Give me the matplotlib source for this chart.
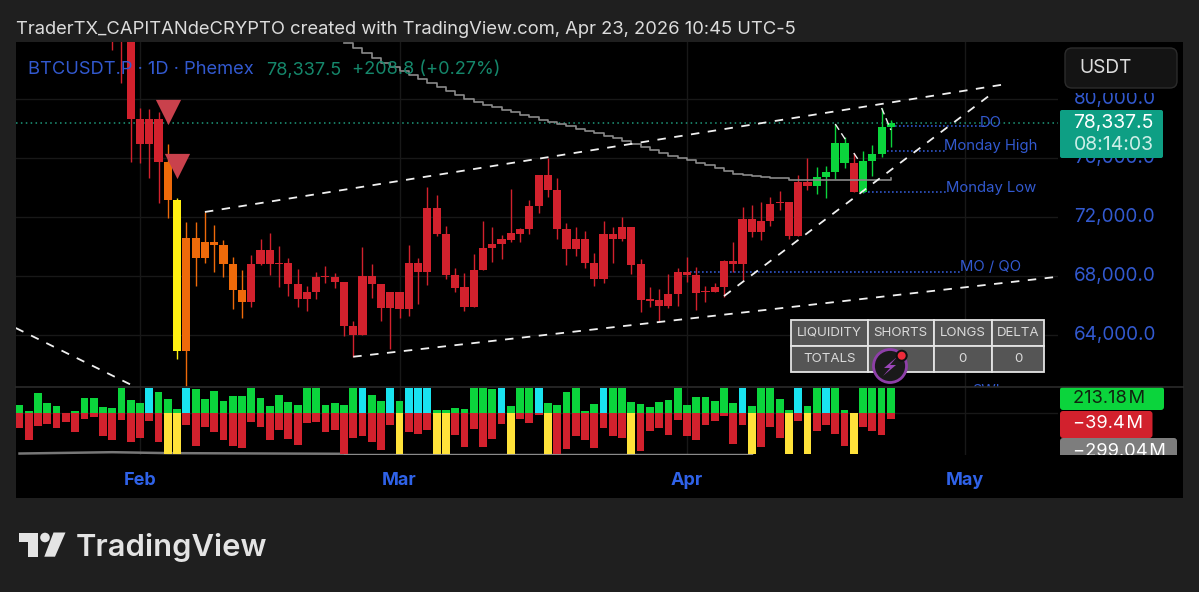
import numpy as np
import matplotlib
matplotlib.use('Agg')
import matplotlib.pyplot as plt
from matplotlib.patches import Circle, FancyBboxPatch, Polygon, Rectangle
from matplotlib.transforms import ScaledTranslation

plt.rcParams['font.family'] = ['Inter', 'DejaVu Sans']

W, H = 1199, 592
BG = '#1f1f1f'
BLUE = '#3259cf'
TEAL = '#0e9f84'
RED = '#d2212d'
GREEN = '#0bd43c'
COLORS = {'r': RED, 'o': '#ee6a0a', 'y': '#fff012', 'g': GREEN}

# days counted from Feb 1
first_candle = -3
highs = [85000, 85000, 86500, 79390, 79320, 79120, 76940, 73280, 71670, 71650,
         72330, 71450, 70430, 69270, 68390, 69410, 70490, 70920, 70040, 69200,
         68460, 67300, 68250, 68660, 68210, 67600, 64950, 69970, 68800, 67440,
         66920, 66920, 70090, 69200, 74030, 73480, 71380, 68530, 68190, 69480,
         71740, 71310, 70770, 73890, 71240, 73140, 74860, 75990, 74640, 71600,
         71310, 71060, 69540, 71740, 71330, 71990, 71310, 69140, 67260, 67100,
         68120, 68550, 69270, 68610, 67300, 67530, 69070, 70310, 72690, 72800,
         72990, 73370, 73750, 73010, 74840, 75990, 75400, 75450, 78300, 77420,
         76330, 76490, 76880, 79390, 78570]
lows = [83330, 81090, 75740, 75680, 74640, 72940, 71920, 62350, 60450, 67300,
        68860, 68270, 67910, 65740, 65130, 65900, 68700, 68050, 67260, 66620,
        65880, 65630, 66420, 67530, 67190, 63910, 62500, 63980, 66490, 64930,
        63030, 65130, 65270, 66080, 67370, 70700, 67780, 66900, 65630, 65880,
        68390, 68950, 69160, 70310, 70290, 70830, 72260, 73370, 70490, 68730,
        69340, 68550, 67320, 67510, 68890, 70380, 68120, 65560, 65900, 64880,
        65810, 65950, 67570, 65670, 66240, 66900, 66580, 68270, 67710, 70650,
        70430, 71380, 72460, 70470, 70700, 73820, 73550, 73280, 74570, 75320,
        73710, 73640, 74770, 76080, 76740]
body_tops = [84800, 84800, 84500, 78660, 78660, 78660, 75720, 73140, 70560, 70560,
             70310, 70310, 70090, 68800, 67030, 68800, 69750, 69750, 68860, 68860,
             67440, 66920, 67930, 67980, 67930, 67600, 64610, 67980, 67980, 67440,
             66920, 66920, 68860, 68860, 72620, 72620, 70830, 68050, 67240, 68390,
             69900, 70160, 70490, 70900, 71170, 72740, 74860, 74860, 73840, 71190,
             70490, 70490, 68890, 70830, 70830, 71310, 71310, 68800, 66420, 66350,
             66760, 68250, 68250, 68070, 66950, 67240, 68990, 68990, 71850, 71850,
             71720, 72890, 73010, 73010, 74360, 74390, 74700, 75060, 77010, 77010,
             75680, 75790, 76270, 78120, 78350]
body_bottoms = [84300, 84300, 78660, 76920, 76920, 75720, 73140, 62890, 62890, 69220,
                69220, 70090, 68800, 67030, 66240, 66240, 68800, 68800, 68780, 67440,
                66420, 66420, 66920, 67900, 67600, 64610, 63980, 63980, 67440, 65830,
                65830, 65740, 65740, 68270, 68270, 70830, 68050, 67190, 65880, 65880,
                68390, 69880, 70160, 70430, 70850, 71170, 72740, 73820, 71190, 69840,
                69840, 68860, 67780, 67780, 70490, 70490, 68750, 66350, 66300, 65950,
                65950, 66760, 68070, 66850, 66880, 66920, 67240, 68820, 68820, 70990,
                70990, 71720, 72950, 70700, 70700, 74090, 74090, 74700, 75060, 75650,
                73710, 73710, 75790, 76270, 78120]
candle_colors = list('rrrrrr' + 'oyooooooo' + 'r' * 60 + 'rgggg' + 'rgggg')

# long average, one value per day from first_ma on
first_ma = 22
ma_values = [83800, 83460, 83120, 82780, 82440, 82170, 81900, 81630, 81360, 81090,
             80820, 80540, 80270, 80000, 79800, 79590, 79460, 79250, 79120, 78910,
             78780, 78570, 78440, 78300, 78170, 77960, 77830, 77690, 77490, 77350,
             77150, 76940, 76740, 76540, 76330, 76130, 75990, 75860, 75650, 75520,
             75320, 75110, 74910, 74840, 74770, 74700, 74640, 74640, 74500, 74500,
             74500, 74500, 74500, 74500, 74500, 74500, 74500, 74500, 74500, 74640]

# trend lines: (day, price) pairs
channel_top = ([7, 93.5], [72330, 81020])
channel_bottom = ([23, 99], [62500, 67930])
rising_support = ([63, 91.7], [66620, 80270])
old_resistance = ([-13.4, -0.5], [64450, 60450])
zigzags = [([75, 76.2], [78300, 77150]),
           ([77, 77.5], [76330, 75860]),
           ([80, 81], [79390, 77900])]

current_price = 78337.5
level_names = ['DO', 'Monday High', 'Monday Low', 'MO / QO']
level_prices = [78190, 76490, 73670, 68250]
level_starts = [80.6, 80.6, 77.7, 59.3]
level_ends = [91.1, 86.8, 87.2, 88.6]
level_label_prices = [78370, 76810, 73960, 68590]
sell_marks = ([3, 4], [79120, 75450])

price_ticks = [64000, 68000, 72000, 76000, 80000]
month_days = [0, 28, 59, 89]
month_names = ['Feb', 'Mar', 'Apr', 'May']

# liquidity pane, millions
first_bar = -13
shorts = [62, 20, 150, 82, 55, 2, 20, 118, 118, 48,
          42, 190, 100, 80, 190, 158, 112, 32, 190, 180,
          108, 168, 95, 132, 128, 190, 118, 58, 138, 88,
          62, 190, 190, 65, 80, 65, 190, 190, 138, 95,
          190, 92, 190, 190, 190, 25, 25, 38, 32, 190,
          190, 180, 190, 55, 190, 190, 190, 78, 62, 162,
          190, 20, 68, 190, 190, 190, 85, 72, 50, 85,
          98, 190, 62, 120, 120, 95, 190, 75, 190, 58,
          190, 190, 112, 25, 190, 55, 190, 190, 190, 25,
          0, 190, 190, 190, 213.18]
longs = [-105, -195, -92, -80, -107, -65, -140, -45, -30, -170,
         -195, -50, -210, -180, -60, -215, -305, -305, -88, -240,
         -100, -138, -200, -242, -258, -62, -100, -198, -125, -190,
         -235, -72, -65, -135, -125, -300, -182, -165, -215, -270,
         -85, -305, -142, -150, -120, -305, -305, -162, -250, -118,
         -248, -190, -78, -305, -38, -72, -15, -305, -305, -268,
         -165, -200, -260, -108, -170, -185, -305, -280, -128, -112,
         -160, -52, -170, -198, -88, -60, -20, -232, -88, -305,
         -252, -100, -180, -305, -58, -305, -128, -85, -155, -245,
         -305, -100, -130, -160, -39.4]
cyan_days = [1, 5, 24, 27, 29, 30, 31, 39, 43, 50, 65, 71, 74]
yellow_days = [3, 4, 28, 32, 33, 40, 44, 53, 66, 70, 72, 77]
delta_days = [-13, -3, 3, 22]
delta_values = [-300, -290, -297, -302]
delta_days_late = [22, 33, 66]
delta_values_late = [-302, -302, -302]

table_rows = [['LIQUIDITY', 'SHORTS', 'LONGS', 'DELTA'],
              ['TOTALS', '', '0', '0']]
pane_tags = ['213.18\u200aM', '\u221239.4\u200aM', '\u2212299.04\u200aM']


def px_rect(x0, y0, x1, y1):
    return [x0 / W, 1 - y1 / H, (x1 - x0) / W, (y1 - y0) / H]


fig = plt.figure(figsize=(W / 100, H / 100), dpi=100, facecolor=BG)

# black panel behind everything
panel = fig.add_axes(px_rect(16, 42, 1183, 498), facecolor='k', zorder=-1)
panel.set_xticks([])
panel.set_yticks([])
for s in panel.spines.values():
    s.set_visible(False)

ax = fig.add_axes(px_rect(16, 42, 1058, 387), facecolor='none')
vol = fig.add_axes(px_rect(16, 388, 1058, 455), facecolor='none')
xlim = (-13.38, 99.03)

# price pane
days = np.arange(len(highs)) + first_candle
colors = [COLORS[c] for c in candle_colors]
ax.vlines(days, lows, highs, colors=colors, lw=1.0, zorder=3)
ax.bar(days, np.array(body_tops) - np.array(body_bottoms), 0.88,
       bottom=body_bottoms, color=colors, zorder=3)
ma_days = np.arange(len(ma_values)) + first_ma
ax.plot(ma_days, ma_values, color='#8a8a8a', lw=1.2, drawstyle='steps-post', zorder=4)

dash = (0, (4.7, 4.7))
for xs, ys in [channel_top, channel_bottom, rising_support, old_resistance]:
    ax.plot(xs, ys, color='#f0f0f0', lw=1.3, linestyle=dash, zorder=5)
for xs, ys in zigzags:
    ax.plot(xs, ys, color='#f0f0f0', lw=1.0, linestyle=(0, (5, 3)), zorder=5)

ax.axhline(current_price, color='#1f9a7c', lw=1.1, linestyle=(0, (1, 2.2)), zorder=2)
for name, p, s, e, lp in zip(level_names, level_prices, level_starts, level_ends, level_label_prices):
    ax.plot([s, e], [p, p], color='#2f55c8', lw=1.2, linestyle=(0, (1, 1.4)), zorder=2)
    ax.text(91.8, lp, name, color=BLUE, fontsize=10.7, ha='center', va='center', zorder=6)
ax.text(91.5, 60200, 'SWL', color=BLUE, fontsize=10.5, ha='center', va='center', clip_on=True)

ax.scatter(*sell_marks, marker='v', s=330, color='#c9414c', linewidths=0, zorder=6)

ax.set_xlim(*xlim)
ax.set_ylim(60445, 83870)
ax.set_yticks(price_ticks)
ax.set_yticklabels(['{:,.1f}'.format(p) for p in price_ticks])
ax.yaxis.tick_right()
ax.tick_params(axis='y', length=0, pad=11.5, labelcolor=BLUE, labelsize=13.6)
lift = ScaledTranslation(0, 1.5 / 72, fig.dpi_scale_trans)
for lab in ax.get_yticklabels():
    lab.set_transform(lab.get_transform() + lift)
ax.set_xticks(month_days)
ax.tick_params(axis='x', length=0, labelbottom=False)
ax.grid(True, color='#181818', lw=1)
ax.set_axisbelow(True)
for s in ax.spines.values():
    s.set_visible(False)

# liquidity pane
bar_days = np.arange(len(shorts)) + first_bar
top_colors = ['#19e3f0' if d in cyan_days else GREEN for d in bar_days]
low_colors = ['#ffe23a' if d in yellow_days else RED for d in bar_days]
vol.plot(delta_days, delta_values, color='#777777', lw=1.8, zorder=1)
vol.plot(delta_days_late, delta_values_late, color='#8a8a8a', lw=1.0, zorder=1)
vol.bar(bar_days, shorts, 0.84, color=top_colors, zorder=2)
vol.bar(bar_days, longs, 0.84, color=low_colors, zorder=2)
vol.set_xlim(*xlim)
vol.set_ylim(-311, 191)
vol.set_yticks([0])
vol.set_yticklabels([])
vol.set_xticks(month_days)
vol.set_xticklabels(month_names)
vol.tick_params(axis='both', length=0)
vol.tick_params(axis='x', pad=12.5, labelcolor='#2f62e8', labelsize=13)
for lab in vol.get_xticklabels():
    lab.set_fontweight('bold')
vol.grid(True, color='#181818', lw=1)
vol.set_axisbelow(True)
for s in vol.spines.values():
    s.set_visible(False)

# everything that sits on the screen rather than on the scales
ui = fig.add_axes([0, 0, 1, 1], facecolor='none', zorder=5)
ui.set_xlim(0, W)
ui.set_ylim(H, 0)
ui.axis('off')

ui.text(16, 29, 'TraderTX_CAPITANdeCRYPTO created with TradingView.com, Apr 23, 2026 10:45 UTC-5',
        color='#dcdcdc', fontsize=13.25, va='center')
ui.text(28, 70, 'BTCUSDT.P \u00b7 1D \u00b7 Phemex', color=BLUE, fontsize=13.2, va='center')
ui.text(266, 70, '78,337.5', color='#15876b', fontsize=13, va='center')
ui.text(352, 70, '+208.8 (+0.27%)', color='#15876b', fontsize=13.1, va='center')

ui.add_line(plt.Line2D([16, 1183], [387, 387], color='#2b2b2b', lw=1.2))

# USDT button and price tag
ui.add_patch(Rectangle((1062, 88), 118, 5, fc='k', ec='none'))
ui.add_patch(FancyBboxPatch((1067, 50), 108, 36, boxstyle='round,pad=2,rounding_size=7',
                            fc='#141414', ec='#2c2c2c', lw=1))
ui.text(1079, 68, 'USDT', color='#dddddd', fontsize=13.8, va='center')
ui.add_patch(FancyBboxPatch((1061, 111), 101, 46, boxstyle='round,pad=1,rounding_size=2',
                            fc=TEAL, ec='none'))
ui.text(1154, 123, '78,337.5', color='white', fontsize=14, va='center', ha='right')
ui.text(1154, 144.5, '08:14:03', color='#cdeee7', fontsize=14, va='center', ha='right')

# pane value tags, the last one cut by the pane edge
tag_boxes = [(1060, 387, 1164, 410, GREEN), (1060, 411, 1152.5, 438, RED), (1060, 438, 1177, 470, '#7d7d7d')]
tag_text_y = [398.5, 424, 452]
tag_text_colors = ['#10240f', 'white', 'white']
pane_clip = Rectangle((1050, 387), 140, 68, transform=ui.transData)
for (x0, y0, x1, y1, fc), ty, tc, label in zip(tag_boxes, tag_text_y, tag_text_colors, pane_tags):
    patch = FancyBboxPatch((x0, y0), x1 - x0, y1 - y0, boxstyle='round,pad=0,rounding_size=3', fc=fc, ec='none')
    ui.add_patch(patch)
    patch.set_clip_path(pane_clip)
    t = ui.text(1073, ty, label, color=tc, fontsize=13.2, va='center')
    t.set_clip_path(pane_clip)
    t.set_clip_on(True)

# liquidity table
col_x = [790.7, 867.7, 933.7, 991.7, 1044.3]
row_y = [320, 346, 372.3]
for r, row in enumerate(table_rows):
    for c, label in enumerate(row):
        ui.add_patch(Rectangle((col_x[c], row_y[r]), col_x[c + 1] - col_x[c], row_y[r + 1] - row_y[r],
                               fc='#555555', ec='#e4e4e4', lw=1.3))
        ui.text((col_x[c] + col_x[c + 1]) / 2, (row_y[r] + row_y[r + 1]) / 2, label,
                color='#dadada', fontsize=9.6, ha='center', va='center')

# alert badge
ui.add_patch(Circle((890, 366), 16.5, fc='#1a1a1a', ec='#8e3fa8', lw=2))
ui.add_patch(Polygon([(897, 357), (884, 368), (890, 368), (883, 376), (896, 365), (890, 365)],
                     fc='#9a46b8', ec='none'))
ui.add_patch(Circle((901.7, 355.7), 6, fc='#111111', ec='none'))
ui.add_patch(Circle((901.7, 355.7), 4, fc='#ee2b3a', ec='none'))

# logo
LOGO = '#e4e4e4'
ui.add_patch(Polygon([(18.5, 532.5), (37.7, 532.5), (37.7, 556.7), (28.3, 556.7), (28.3, 542), (18.5, 542)],
                     fc=LOGO, ec='none'))
ui.add_patch(Circle((45, 537.5), 4.8, fc=LOGO, ec='none'))
ui.add_patch(Polygon([(53.5, 532.5), (65.5, 532.5), (55, 556.7), (44.3, 556.7)], fc=LOGO, ec='none'))
ui.text(76, 556, 'TradingView', color=LOGO, fontsize=22.3, fontweight='semibold', va='baseline')

fig.savefig('out.png', dpi=100, facecolor=BG)
